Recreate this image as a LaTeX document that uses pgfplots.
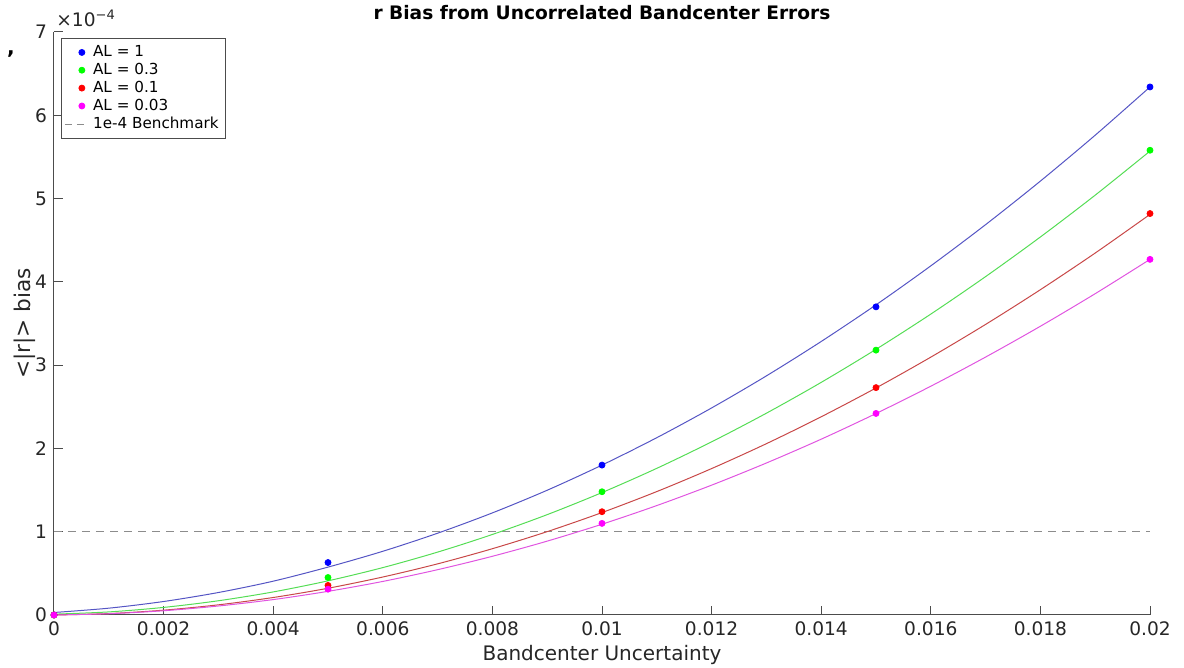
\documentclass[border=0pt]{standalone}
\usepackage{fontspec}
\setmainfont{DejaVu Sans}
\usepackage{pgfplots}
\pgfplotsset{compat=1.18}

\definecolor{mkBlue}{HTML}{0000FF}
\definecolor{mkGreen}{HTML}{00FF00}
\definecolor{mkRed}{HTML}{FF0000}
\definecolor{mkMag}{HTML}{FF00FF}
\definecolor{lnBlue}{HTML}{5555C4}
\definecolor{lnGreen}{HTML}{55DD55}
\definecolor{lnRed}{HTML}{C84848}
\definecolor{lnMag}{HTML}{E055E0}
\definecolor{bench}{HTML}{8C8C8C}

% fitted curves, values in units of 1e-4
\pgfplotstableread{
x      blue    green   red     mag
0.000  0.030   0.010   0.000   0.000
0.001  0.082   0.037   0.017   0.015
0.002  0.162   0.091   0.058   0.051
0.003  0.270   0.171   0.122   0.108
0.004  0.406   0.277   0.210   0.185
0.005  0.575   0.410   0.321   0.284
0.006  0.765   0.569   0.456   0.403
0.007  0.982   0.755   0.614   0.544
0.008  1.226   0.967   0.796   0.705
0.009  1.498   1.205   1.001   0.887
0.010  1.800   1.470   1.230   1.090
0.011  2.129   1.761   1.482   1.314
0.012  2.486   2.079   1.758   1.559
0.013  2.871   2.423   2.057   1.825
0.014  3.284   2.793   2.380   2.111
0.015  3.724   3.190   2.726   2.419
0.016  4.192   3.613   3.096   2.747
0.017  4.687   4.063   3.489   3.097
0.018  5.210   4.539   3.906   3.467
0.019  5.761   5.041   4.346   3.858
0.020  6.340   5.570   4.810   4.270
}\fitdata

% measured points, units of 1e-4
\pgfplotstableread{
x      blue    green   red     mag
0.000  0.000   0.000   0.000   0.000
0.005  0.630   0.450   0.355   0.310
0.010  1.800   1.480   1.240   1.100
0.015  3.700   3.180   2.730   2.420
0.020  6.340   5.580   4.820   4.270
}\ptdata

\begin{document}
\begin{tikzpicture}
\useasboundingbox (-27pt,-26.5pt) rectangle (565pt,307.5pt);
\begin{axis}[
	scale only axis,
	width=548pt,
	height=291.5pt,
	xmin=0, xmax=0.02,
	ymin=0, ymax=7,
	xtick={0,0.002,...,0.0201},
	ytick={0,1,...,7},
	scaled x ticks=false,
	xticklabel style={/pgf/number format/fixed,/pgf/number format/precision=3},
	/pgf/number format/assume math mode=true,
	tick label style={font=\fontsize{9.3}{10}\selectfont, text=black!85},
	axis lines=left,
	axis line style={-, draw=black!70, line width=0.5pt},
	tick style={draw=black!70, line width=0.5pt},
	tick align=inside,
	major tick length=4.5pt,
	xlabel={Bandcenter Uncertainty},
	ylabel={<|r|> bias},
	xlabel style={font=\fontsize{10}{11}\selectfont, text=black!85,
		at={(axis description cs:0.5,0)}, anchor=center, yshift=-20pt},
	ylabel style={font=\fontsize{10.8}{11}\selectfont, text=black!85,
		at={(axis description cs:-0.0283,0.5)}, anchor=center, yshift=-1pt},
	title={r Bias from Uncorrelated Bandcenter Errors},
	title style={font=\bfseries\fontsize{9.3}{10}\selectfont, at={(axis description cs:0.5,1)}, anchor=center, yshift=3.5pt},
	legend style={
		at={(rel axis cs:0,1)}, anchor=north west,
		xshift=3.5pt, yshift=-3pt,
		draw=black!70, line width=0.4pt,
		font=\fontsize{7.6}{8.5}\selectfont,
		cells={anchor=west},
		row sep=-2.2pt,
		inner sep=1.5pt,
	},
	clip=false,
]
\addplot[only marks, mark=*, mark size=1.5pt, color=mkBlue] table[x=x,y=blue] {\ptdata};
\addlegendentry{AL = 1}
\addplot[only marks, mark=*, mark size=1.5pt, color=mkGreen] table[x=x,y=green] {\ptdata};
\addlegendentry{AL = 0.3}
\addplot[only marks, mark=*, mark size=1.5pt, color=mkRed] table[x=x,y=red] {\ptdata};
\addlegendentry{AL = 0.1}
\addplot[only marks, mark=*, mark size=1.5pt, color=mkMag] table[x=x,y=mag] {\ptdata};
\addlegendentry{AL = 0.03}
\addplot[draw=bench, dash pattern=on 4pt off 3pt, line width=0.4pt,
	legend image code/.code={\draw[bench, line width=0.4pt, dash pattern=on 3.5pt off 2.5pt] (0cm,0cm) -- (0.42cm,0cm);}]
	coordinates {(0,1) (0.02,1)};
\addlegendentry{1e-4 Benchmark}

\addplot[forget plot, smooth, draw=lnBlue, line width=0.5pt] table[x=x,y=blue] {\fitdata};
\addplot[forget plot, smooth, draw=lnGreen, line width=0.5pt] table[x=x,y=green] {\fitdata};
\addplot[forget plot, smooth, draw=lnRed, line width=0.5pt] table[x=x,y=red] {\fitdata};
\addplot[forget plot, smooth, draw=lnMag, line width=0.5pt] table[x=x,y=mag] {\fitdata};

\node[anchor=base west, inner sep=0pt, font=\fontsize{9.3}{10}\selectfont, text=black!85]
	at ([xshift=1pt,yshift=2.5pt]rel axis cs:0,1) {×10\textsuperscript{−4}};
\node[anchor=center, inner sep=0pt, font=\bfseries\fontsize{10}{10}\selectfont]
	at ([xshift=-21.5pt,yshift=-11pt]rel axis cs:0,1) {,};
\end{axis}
\end{tikzpicture}
\end{document}
